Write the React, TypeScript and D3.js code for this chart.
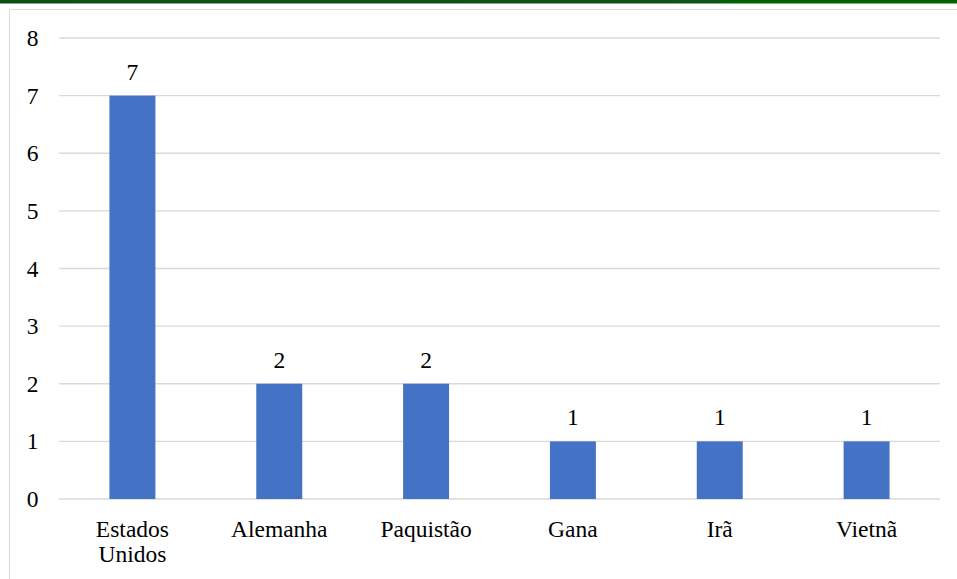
import React from "react";
import * as d3 from "d3";

const categories = ["Estados Unidos", "Alemanha", "Paquistão", "Gana", "Irã", "Vietnã"];
const values = [7, 2, 2, 1, 1, 1];
const yTicks = [0, 1, 2, 3, 4, 5, 6, 7, 8];

const W = 957;
const H = 579;
const plot = { left: 59, right: 940, top: 38, bottom: 499 };
const FONT =
  "'Liberation Serif', 'Times New Roman', Times, Tinos, 'DejaVu Serif', 'Noto Serif', 'Noto Serif CJK SC', 'Noto Serif CJK JP', serif";
const FS = 23.5;

export default function App() {
  const x = d3
    .scaleBand<string>()
    .domain(categories)
    .range([plot.left, plot.right])
    .paddingInner(0.687)
    .paddingOuter(0.3435);
  const y = d3.scaleLinear().domain([0, 8]).range([plot.bottom, plot.top]);

  const splitLabel = (s: string) => (s === "Estados Unidos" ? ["Estados", "Unidos"] : [s]);
  const textStyle = { fontFamily: FONT, fontSize: FS, fill: "#000" };

  return (
    <div style={{ position: "absolute", left: 0, top: 0 }}>
      <svg width={W} height={H} style={{ display: "block", background: "#fff" }}>
        <defs>
          <linearGradient id="band" x1="0" x2="1" y1="0" y2="0">
            <stop offset="0" stopColor="#0b4f12" />
            <stop offset="0.75" stopColor="#12521a" />
            <stop offset="0.76" stopColor="#006400" />
            <stop offset="1" stopColor="#006400" />
          </linearGradient>
        </defs>
        <rect x={0} y={0} width={W} height={3.5} fill="url(#band)" />
        {/* chart frame */}
        <line x1={9.5} x2={W} y1={9.5} y2={9.5} stroke="#d9d9d9" strokeWidth={1} />
        <line x1={9.5} x2={9.5} y1={9.5} y2={H} stroke="#d9d9d9" strokeWidth={1} />

        {yTicks.map((t) => (
          <g key={t}>
            <line
              x1={plot.left}
              x2={plot.right}
              y1={y(t)}
              y2={y(t)}
              stroke="#d9d9d9"
              strokeWidth={1.3}
            />
            <text x={38.5} y={y(t) + 8} textAnchor="end" style={textStyle}>
              {t}
            </text>
          </g>
        ))}

        {categories.map((c, i) => (
          <g key={c}>
            <rect
              x={x(c)}
              y={y(values[i])}
              width={x.bandwidth()}
              height={y(0) - y(values[i])}
              fill="#4472c4"
            />
            <text
              x={(x(c) as number) + x.bandwidth() / 2}
              y={y(values[i]) - 16}
              textAnchor="middle"
              style={textStyle}
            >
              {values[i]}
            </text>
            {splitLabel(c).map((line, j) => (
              <text
                key={j}
                x={(x(c) as number) + x.bandwidth() / 2}
                y={537 + j * 25}
                textAnchor="middle"
                style={textStyle}
              >
                {line}
              </text>
            ))}
          </g>
        ))}
      </svg>
    </div>
  );
}
